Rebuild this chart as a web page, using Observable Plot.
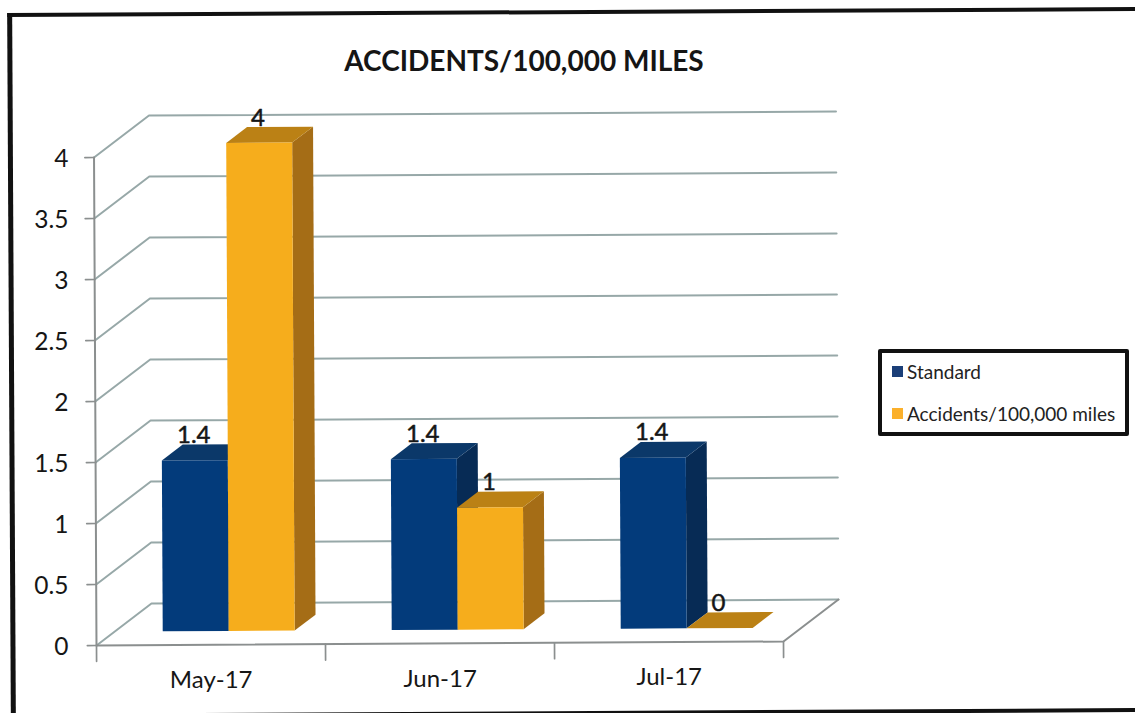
<!DOCTYPE html>
<html>
<head>
<meta charset="utf-8">
<script src="https://cdn.jsdelivr.net/npm/d3@7"></script>
<script src="https://cdn.jsdelivr.net/npm/@observablehq/plot@0.6"></script>
<style>
html,body{margin:0;padding:0;background:#fff;overflow:hidden}
#page{position:relative;width:1135px;height:713px;overflow:hidden;font-family:Lato,"Open Sans",sans-serif;color:#111}
#page svg{position:absolute;left:0;top:0;background:transparent}
#frame{position:absolute;left:9px;top:10px;width:1140px;height:697px;border-left:5px solid #111;border-top:4px solid #111;border-bottom:4px solid #111;transform:rotate(-0.3deg)}
#title{position:absolute;left:224px;width:600px;top:42px;text-align:center;font-weight:700;font-size:28px;line-height:36px;color:#151515}
#legend{position:absolute;left:878px;top:349px;width:243px;height:79px;border:4.5px solid #111;border-radius:2px;background:#fff;font-size:19px;color:#222}
.row{position:absolute;left:10px;white-space:nowrap;line-height:22px}
.row i{position:absolute;left:0;top:5px;width:11px;height:11px}
.row span{position:absolute;left:15px;top:0}
</style>
</head>
<body>
<div id="page">
  <div id="frame"></div>
  <div id="title"></div>
  <div id="legend"></div>
</div>
<script>
const titleText = "ACCIDENTS/100,000 MILES";
const months = ["May-17", "Jun-17", "Jul-17"];
const standard = [1.4, 1.4, 1.4];
const accidents = [4, 1, 0];
const seriesNames = ["Standard", "Accidents/100,000 miles"];
const yTicks = [0, 0.5, 1, 1.5, 2, 2.5, 3, 3.5, 4];
const labelsStandard = ["1.4", "1.4", "1.4"];
const labelsAccidents = ["4", "1", "0"];

// oblique projection: category position, value, depth -> data coordinates
const project = (c, v, d) => ({x: c + 0.24 * d - 0.0027 * v, y: v + 0.344 * d + 0.0109 * c});

const series = [
  {values: standard, labels: labelsStandard, offset: 0.21, front: "#033b7b", top: "#0b3869", side: "#072b55"},
  {values: accidents, labels: labelsAccidents, offset: 0.498, front: "#f6ad1c", top: "#bb8115", side: "#a56d16"}
];
const barWidth = 0.288, d0 = 0.33, d1 = 0.71;

const poly = (id, pts) => pts.map(p => ({id, ...project(...p)}));
const gridColor = "#97a8a8", axisColor = "#8b8f8f";

const wall = yTicks.flatMap((v, i) => poly("g" + i, [[0, v, 0], [0, v, 1], [3, v, 1]]));
const floorEdge = poly("f", [[0, 0, 0], [3, 0, 0], [3, 0, 1]]);
const yAxisLine = poly("y", [[0, 0, 0], [0, 4, 0]]);
const yTickLines = yTicks.flatMap((v, i) => poly("yt" + i, [[-0.04, v, 0], [0, v, 0]]));
const xTickLines = [0, 1, 2, 3].flatMap(c => poly("xt" + c, [[c, 0, 0], [c, -0.13, 0]]));

const barMarks = series.flatMap((s, si) => {
  const side = [], top = [], front = [];
  s.values.forEach((v, i) => {
    const a = i + s.offset, b = a + barWidth, id = si + "-" + i;
    side.push(...poly(id, [[b, 0, d0], [b, 0, d1], [b, v, d1], [b, v, d0]]));
    top.push(...poly(id, [[a, v, d0], [b, v, d0], [b, v, d1], [a, v, d1]]));
    front.push(...poly(id, [[a, 0, d0], [b, 0, d0], [b, v, d0], [a, v, d0]]));
  });
  return [
    Plot.line(side, {x: "x", y: "y", z: "id", fill: s.side, stroke: "none"}),
    Plot.line(top, {x: "x", y: "y", z: "id", fill: s.top, stroke: "none"}),
    Plot.line(front, {x: "x", y: "y", z: "id", fill: s.front, stroke: "none"})
  ];
});

const valueLabels = series.flatMap(s => s.values.map((v, i) => ({
  text: s.labels[i],
  ...project(i + s.offset + barWidth / 2, v, d1)
})));
const monthLabels = months.map((m, i) => ({text: m, ...project(i + 0.5, -0.29, 0)}));

const chart = Plot.plot({
  width: 1135,
  height: 713,
  marginLeft: 96,
  marginRight: 352,
  marginTop: 157,
  marginBottom: 68,
  x: {domain: [0, 3], axis: null},
  y: {domain: [0, 4]},
  style: {background: "transparent", fontFamily: "Lato, 'Open Sans', sans-serif"},
  marks: [
    Plot.axisY({ticks: yTicks, tickFormat: d => String(d), tickSize: 0, tickPadding: 28, fontSize: 24.5, label: null, color: "#161616", dy: 2}),
    Plot.line(wall, {x: "x", y: "y", z: "id", stroke: gridColor, strokeWidth: 2}),
    Plot.line(floorEdge, {x: "x", y: "y", z: "id", stroke: axisColor, strokeWidth: 2}),
    Plot.line(yAxisLine, {x: "x", y: "y", z: "id", stroke: axisColor, strokeWidth: 2}),
    Plot.line(yTickLines, {x: "x", y: "y", z: "id", stroke: axisColor, strokeWidth: 1.7}),
    Plot.line(xTickLines, {x: "x", y: "y", z: "id", stroke: axisColor, strokeWidth: 1.7}),
    ...barMarks,
    Plot.text(valueLabels, {x: "x", y: "y", text: "text", dx: -22, dy: -9, fontSize: 24, fill: "#161616", stroke: "#161616", strokeWidth: 0.5}),
    Plot.text(monthLabels, {x: "x", y: "y", text: "text", fontSize: 24, fill: "#161616"})
  ]
});
document.getElementById("page").insertBefore(chart, document.getElementById("frame"));

document.getElementById("title").textContent = titleText;
const legend = document.getElementById("legend");
[["#1b3f78", 8], ["#fbb02b", 50]].forEach(([color, top], i) => {
  const row = document.createElement("div");
  row.className = "row";
  row.style.top = top + "px";
  const sw = document.createElement("i");
  sw.style.background = color;
  const label = document.createElement("span");
  label.textContent = seriesNames[i];
  row.append(sw, label);
  legend.append(row);
});
</script>
</body>
</html>
